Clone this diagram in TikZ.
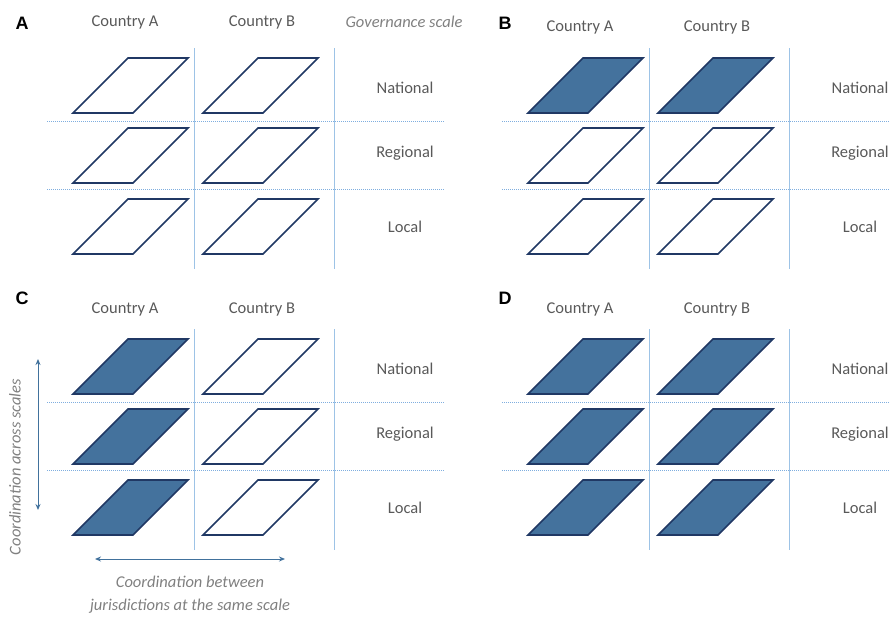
\documentclass[tikz,border=0pt]{standalone}
\usepackage{fontspec}
\setmainfont{Carlito}
\newfontfamily\panelfont{Liberation Sans}
\usetikzlibrary{arrows.meta}

\definecolor{planefill}{HTML}{44729D}
\definecolor{planeline}{HTML}{203864}
\definecolor{gridblue}{HTML}{9DC3E6}
\definecolor{dotblue}{HTML}{7FAEDF}
\definecolor{labelgray}{HTML}{595959}
\definecolor{notegray}{HTML}{808080}
\definecolor{arrowblue}{HTML}{41719C}

\tikzset{
  plane/.style={draw=planeline, line width=1.6pt},
  full/.style={plane, fill=planefill},
  empty/.style={plane, fill=white},
  pics/layer/.style={code={\draw[#1] (0,0) -- (60,0) -- (115,-55) -- (55,-55) -- cycle;}}
}

\begin{document}
\begin{tikzpicture}[x=1pt, y=-1pt,
    every node/.style={text=labelgray, font=\fontsize{16.5}{20}\selectfont},
    colline/.style={draw=gridblue, line width=1pt},
    rowline/.style={draw=dotblue, line width=1pt, dash pattern=on 1pt off 1pt},
    tag/.style={text=black, font=\panelfont\bfseries\fontsize{18}{20}\selectfont},
    note/.style={text=notegray, font=\itshape\fontsize{16.5}{20}\selectfont},
    coord/.style={draw=arrowblue, line width=1pt, {Stealth[length=6pt,width=5pt]}-{Stealth[length=6pt,width=5pt]}}]
	\useasboundingbox (0,0) rectangle (889,616);
	\clip (0,0) rectangle (889,616);
	%
	%grid, headers and scales of the four panels
	\foreach \p/\L/\dx/\dy/\hy/\lx/\ly in {a/A/0/0/22/22/23, b/B/455/0/27/50/23, c/C/0/281/28/22/17, d/D/455/281/28/50/17}{
		\begin{scope}[shift={(\dx,\dy)}]
			\coordinate (\p-v1-top) at (194,48);
			\coordinate (\p-v1-bot) at (194,269);
			\coordinate (\p-v2-top) at (334,48);
			\coordinate (\p-v2-bot) at (334,269);
			\coordinate (\p-h1-left) at (47,121);
			\coordinate (\p-h1-right) at (444,121);
			\coordinate (\p-h2-left) at (47,189);
			\coordinate (\p-h2-right) at (444,189);
			\draw[colline] (\p-v1-top) -- (\p-v1-bot);
			\draw[colline] (\p-v2-top) -- (\p-v2-bot);
			\draw[rowline] (\p-h1-left) -- (\p-h1-right);
			\draw[rowline] (\p-h2-left) -- (\p-h2-right);
			%
			\node[tag] (\p-tag) at (\lx,\ly) {\L};
			\node (\p-countryA) at (125,\hy) {Country A};
			\node (\p-countryB) at (262,\hy) {Country B};
			\node (\p-national) at (405,88) {National};
			\node (\p-regional) at (405,153) {Regional};
			\node (\p-local) at (405,227) {Local};
		\end{scope}
	}
	\node[note] (scale) at (404,22) {Governance scale};
	%
	%A: no coordination
	\foreach \y in {113,183,254}{
		\pic at (73,\y) {layer=empty};
		\pic at (203,\y) {layer=empty};
	}
	%
	%B: national scale
	\begin{scope}[shift={(455,0)}]
		\pic at (73,113) {layer=full};
		\pic at (203,113) {layer=full};
		\foreach \y in {183,254}{
			\pic at (73,\y) {layer=empty};
			\pic at (203,\y) {layer=empty};
		}
	\end{scope}
	%
	%C: across scales in country A
	\begin{scope}[shift={(0,281)}]
		\foreach \y in {113,183,254}{
			\pic at (73,\y) {layer=full};
			\pic at (203,\y) {layer=empty};
		}
	\end{scope}
	%
	%D: everything
	\begin{scope}[shift={(455,281)}]
		\foreach \y in {113,183,254}{
			\pic at (73,\y) {layer=full};
			\pic at (203,\y) {layer=full};
		}
	\end{scope}
	%
	%arrows
	\coordinate (across-top) at (38,359);
	\coordinate (across-bot) at (38,510);
	\draw[coord] (across-top) -- (across-bot);
	\node[note, rotate=90] (across) at (15,467) {Coordination across scales};
	%
	\coordinate (between-left) at (95,559);
	\coordinate (between-right) at (285,559);
	\draw[coord] (between-left) -- (between-right);
	\node[note, align=center, font=\itshape\fontsize{16.5}{23}\selectfont] (between) at (190,595) {Coordination between\\jurisdictions at the same scale};
\end{tikzpicture}
\end{document}
